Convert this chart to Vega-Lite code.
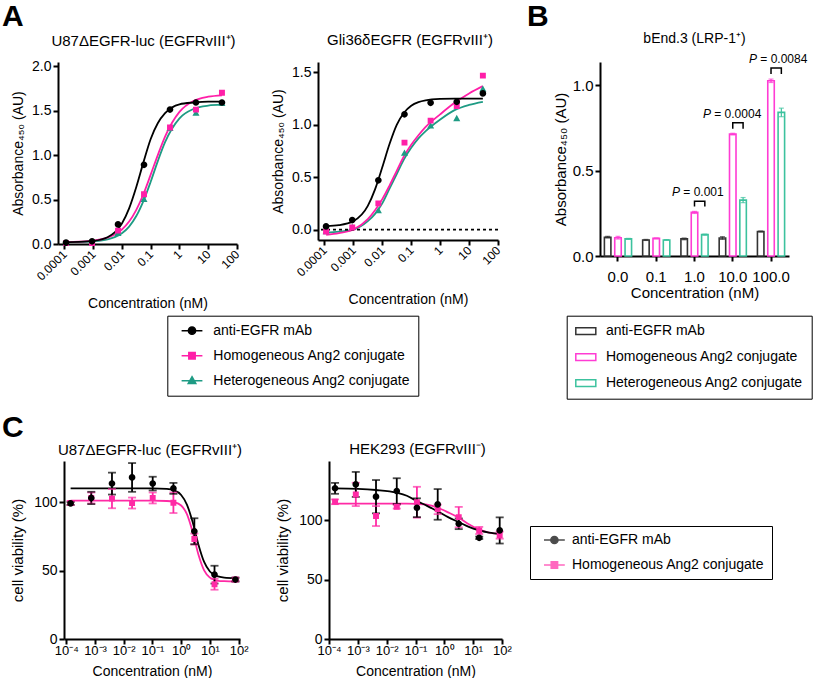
{
  "$schema": "https://vega.github.io/schema/vega-lite/v6.json",
  "padding": {"left": 2, "top": 2, "right": 0, "bottom": 0},
  "autosize": {"type": "pad"},
  "background": "white",
  "config": {
    "font": "Liberation Sans",
    "view": {"stroke": null},
    "axis": {"domainColor": "#000", "domainWidth": 2, "tickColor": "#000", "tickWidth": 2, "tickSize": 5, "labelColor": "#000", "labelFontSize": 14, "labelFont": "Liberation Sans", "titleFont": "Liberation Sans", "titleFontSize": 14, "titleFontWeight": "normal", "titleColor": "#000", "grid": false, "labelPadding": 2, "labelFlush": false, "labelOverlap": false},
    "title": {"font": "Liberation Sans", "fontSize": 15, "fontWeight": "normal", "color": "#000", "baseline": "alphabetic"},
    "text": {"font": "Liberation Sans", "color": "#000"},
    "legend": {"labelFont": "Liberation Sans", "labelFontSize": 14, "labelColor": "#000", "labelLimit": 400, "title": null}
  },
  "datasets": {
    "a_pts": [
      {"panel": "A1", "series": "Hetero", "conc": 0.000114, "value": 0.01},
      {"panel": "A1", "series": "Hetero", "conc": 0.000916, "value": 0.01},
      {"panel": "A1", "series": "Hetero", "conc": 0.00732, "value": 0.12},
      {"panel": "A1", "series": "Hetero", "conc": 0.0586, "value": 0.50},
      {"panel": "A1", "series": "Hetero", "conc": 0.469, "value": 1.30},
      {"panel": "A1", "series": "Hetero", "conc": 3.75, "value": 1.47},
      {"panel": "A1", "series": "Hetero", "conc": 30, "value": 1.58},
      {"panel": "A1", "series": "Homo", "conc": 0.000114, "value": 0.01},
      {"panel": "A1", "series": "Homo", "conc": 0.000916, "value": 0.01},
      {"panel": "A1", "series": "Homo", "conc": 0.00732, "value": 0.15},
      {"panel": "A1", "series": "Homo", "conc": 0.0586, "value": 0.56},
      {"panel": "A1", "series": "Homo", "conc": 0.469, "value": 1.31},
      {"panel": "A1", "series": "Homo", "conc": 3.75, "value": 1.51},
      {"panel": "A1", "series": "Homo", "conc": 30, "value": 1.70},
      {"panel": "A1", "series": "mAb", "conc": 0.000114, "value": 0.015},
      {"panel": "A1", "series": "mAb", "conc": 0.000916, "value": 0.03},
      {"panel": "A1", "series": "mAb", "conc": 0.00732, "value": 0.22},
      {"panel": "A1", "series": "mAb", "conc": 0.0586, "value": 0.89},
      {"panel": "A1", "series": "mAb", "conc": 0.469, "value": 1.51},
      {"panel": "A1", "series": "mAb", "conc": 3.75, "value": 1.59},
      {"panel": "A1", "series": "mAb", "conc": 30, "value": 1.59},
      {"panel": "A2", "series": "Hetero", "conc": 0.000114, "value": -0.02},
      {"panel": "A2", "series": "Hetero", "conc": 0.000916, "value": 0.02},
      {"panel": "A2", "series": "Hetero", "conc": 0.00732, "value": 0.18},
      {"panel": "A2", "series": "Hetero", "conc": 0.0586, "value": 0.73},
      {"panel": "A2", "series": "Hetero", "conc": 0.469, "value": 0.99},
      {"panel": "A2", "series": "Hetero", "conc": 3.75, "value": 1.06},
      {"panel": "A2", "series": "Hetero", "conc": 30, "value": 1.34},
      {"panel": "A2", "series": "Homo", "conc": 0.000114, "value": -0.02},
      {"panel": "A2", "series": "Homo", "conc": 0.000916, "value": 0.02},
      {"panel": "A2", "series": "Homo", "conc": 0.00732, "value": 0.25},
      {"panel": "A2", "series": "Homo", "conc": 0.0586, "value": 0.83},
      {"panel": "A2", "series": "Homo", "conc": 0.469, "value": 1.04},
      {"panel": "A2", "series": "Homo", "conc": 3.75, "value": 1.18},
      {"panel": "A2", "series": "Homo", "conc": 30, "value": 1.47},
      {"panel": "A2", "series": "mAb", "conc": 0.000114, "value": 0.03},
      {"panel": "A2", "series": "mAb", "conc": 0.000916, "value": 0.09},
      {"panel": "A2", "series": "mAb", "conc": 0.00732, "value": 0.47},
      {"panel": "A2", "series": "mAb", "conc": 0.0586, "value": 1.10},
      {"panel": "A2", "series": "mAb", "conc": 0.469, "value": 1.21},
      {"panel": "A2", "series": "mAb", "conc": 3.75, "value": 1.22},
      {"panel": "A2", "series": "mAb", "conc": 30, "value": 1.30}
    ],
    "a_curves": [
      {"panel": "A1", "series": "Hetero", "conc": 0.000115, "value": 0.021},
      {"panel": "A1", "series": "Hetero", "conc": 0.000316, "value": 0.022},
      {"panel": "A1", "series": "Hetero", "conc": 0.001, "value": 0.030},
      {"panel": "A1", "series": "Hetero", "conc": 0.00316, "value": 0.052},
      {"panel": "A1", "series": "Hetero", "conc": 0.00562, "value": 0.077},
      {"panel": "A1", "series": "Hetero", "conc": 0.01, "value": 0.121},
      {"panel": "A1", "series": "Hetero", "conc": 0.0178, "value": 0.196},
      {"panel": "A1", "series": "Hetero", "conc": 0.0316, "value": 0.314},
      {"panel": "A1", "series": "Hetero", "conc": 0.0562, "value": 0.485},
      {"panel": "A1", "series": "Hetero", "conc": 0.1, "value": 0.70},
      {"panel": "A1", "series": "Hetero", "conc": 0.178, "value": 0.934},
      {"panel": "A1", "series": "Hetero", "conc": 0.316, "value": 1.144},
      {"panel": "A1", "series": "Hetero", "conc": 1, "value": 1.412},
      {"panel": "A1", "series": "Hetero", "conc": 3.16, "value": 1.519},
      {"panel": "A1", "series": "Hetero", "conc": 10, "value": 1.555},
      {"panel": "A1", "series": "Hetero", "conc": 30, "value": 1.565},
      {"panel": "A1", "series": "Homo", "conc": 0.000115, "value": 0.022},
      {"panel": "A1", "series": "Homo", "conc": 0.000316, "value": 0.026},
      {"panel": "A1", "series": "Homo", "conc": 0.001, "value": 0.037},
      {"panel": "A1", "series": "Homo", "conc": 0.00316, "value": 0.071},
      {"panel": "A1", "series": "Homo", "conc": 0.00562, "value": 0.106},
      {"panel": "A1", "series": "Homo", "conc": 0.01, "value": 0.163},
      {"panel": "A1", "series": "Homo", "conc": 0.0178, "value": 0.252},
      {"panel": "A1", "series": "Homo", "conc": 0.0316, "value": 0.384},
      {"panel": "A1", "series": "Homo", "conc": 0.0562, "value": 0.562},
      {"panel": "A1", "series": "Homo", "conc": 0.1, "value": 0.779},
      {"panel": "A1", "series": "Homo", "conc": 0.178, "value": 1.002},
      {"panel": "A1", "series": "Homo", "conc": 0.316, "value": 1.207},
      {"panel": "A1", "series": "Homo", "conc": 1, "value": 1.484},
      {"panel": "A1", "series": "Homo", "conc": 3.16, "value": 1.609},
      {"panel": "A1", "series": "Homo", "conc": 10, "value": 1.655},
      {"panel": "A1", "series": "Homo", "conc": 30, "value": 1.671},
      {"panel": "A1", "series": "mAb", "conc": 0.000115, "value": 0.021},
      {"panel": "A1", "series": "mAb", "conc": 0.000316, "value": 0.023},
      {"panel": "A1", "series": "mAb", "conc": 0.001, "value": 0.034},
      {"panel": "A1", "series": "mAb", "conc": 0.00316, "value": 0.076},
      {"panel": "A1", "series": "mAb", "conc": 0.00562, "value": 0.13},
      {"panel": "A1", "series": "mAb", "conc": 0.01, "value": 0.23},
      {"panel": "A1", "series": "mAb", "conc": 0.0178, "value": 0.40},
      {"panel": "A1", "series": "mAb", "conc": 0.0316, "value": 0.64},
      {"panel": "A1", "series": "mAb", "conc": 0.0562, "value": 0.92},
      {"panel": "A1", "series": "mAb", "conc": 0.1, "value": 1.18},
      {"panel": "A1", "series": "mAb", "conc": 0.178, "value": 1.36},
      {"panel": "A1", "series": "mAb", "conc": 0.316, "value": 1.47},
      {"panel": "A1", "series": "mAb", "conc": 1, "value": 1.57},
      {"panel": "A1", "series": "mAb", "conc": 3.16, "value": 1.59},
      {"panel": "A1", "series": "mAb", "conc": 10, "value": 1.60},
      {"panel": "A1", "series": "mAb", "conc": 30, "value": 1.60},
      {"panel": "A2", "series": "Hetero", "conc": 0.000115, "value": -0.03},
      {"panel": "A2", "series": "Hetero", "conc": 0.000316, "value": -0.02},
      {"panel": "A2", "series": "Hetero", "conc": 0.001, "value": 0.0},
      {"panel": "A2", "series": "Hetero", "conc": 0.00316, "value": 0.08},
      {"panel": "A2", "series": "Hetero", "conc": 0.00562, "value": 0.15},
      {"panel": "A2", "series": "Hetero", "conc": 0.01, "value": 0.25},
      {"panel": "A2", "series": "Hetero", "conc": 0.0178, "value": 0.39},
      {"panel": "A2", "series": "Hetero", "conc": 0.0316, "value": 0.53},
      {"panel": "A2", "series": "Hetero", "conc": 0.0562, "value": 0.67},
      {"panel": "A2", "series": "Hetero", "conc": 0.1, "value": 0.78},
      {"panel": "A2", "series": "Hetero", "conc": 0.178, "value": 0.87},
      {"panel": "A2", "series": "Hetero", "conc": 0.316, "value": 0.94},
      {"panel": "A2", "series": "Hetero", "conc": 1, "value": 1.05},
      {"panel": "A2", "series": "Hetero", "conc": 3.16, "value": 1.14},
      {"panel": "A2", "series": "Hetero", "conc": 10, "value": 1.19},
      {"panel": "A2", "series": "Hetero", "conc": 30, "value": 1.22},
      {"panel": "A2", "series": "Homo", "conc": 0.000115, "value": -0.05},
      {"panel": "A2", "series": "Homo", "conc": 0.000316, "value": -0.035},
      {"panel": "A2", "series": "Homo", "conc": 0.001, "value": 0.0},
      {"panel": "A2", "series": "Homo", "conc": 0.00316, "value": 0.10},
      {"panel": "A2", "series": "Homo", "conc": 0.00562, "value": 0.185},
      {"panel": "A2", "series": "Homo", "conc": 0.01, "value": 0.29},
      {"panel": "A2", "series": "Homo", "conc": 0.0178, "value": 0.42},
      {"panel": "A2", "series": "Homo", "conc": 0.0316, "value": 0.56},
      {"panel": "A2", "series": "Homo", "conc": 0.0562, "value": 0.70},
      {"panel": "A2", "series": "Homo", "conc": 0.1, "value": 0.81},
      {"panel": "A2", "series": "Homo", "conc": 0.178, "value": 0.90},
      {"panel": "A2", "series": "Homo", "conc": 0.316, "value": 0.98},
      {"panel": "A2", "series": "Homo", "conc": 1, "value": 1.10},
      {"panel": "A2", "series": "Homo", "conc": 3.16, "value": 1.21},
      {"panel": "A2", "series": "Homo", "conc": 10, "value": 1.30},
      {"panel": "A2", "series": "Homo", "conc": 30, "value": 1.37},
      {"panel": "A2", "series": "mAb", "conc": 0.000115, "value": 0.033},
      {"panel": "A2", "series": "mAb", "conc": 0.000316, "value": 0.042},
      {"panel": "A2", "series": "mAb", "conc": 0.001, "value": 0.08},
      {"panel": "A2", "series": "mAb", "conc": 0.00316, "value": 0.226},
      {"panel": "A2", "series": "mAb", "conc": 0.00562, "value": 0.384},
      {"panel": "A2", "series": "mAb", "conc": 0.01, "value": 0.595},
      {"panel": "A2", "series": "mAb", "conc": 0.0178, "value": 0.817},
      {"panel": "A2", "series": "mAb", "conc": 0.0316, "value": 1.0},
      {"panel": "A2", "series": "mAb", "conc": 0.0562, "value": 1.116},
      {"panel": "A2", "series": "mAb", "conc": 0.1, "value": 1.183},
      {"panel": "A2", "series": "mAb", "conc": 0.178, "value": 1.217},
      {"panel": "A2", "series": "mAb", "conc": 0.316, "value": 1.234},
      {"panel": "A2", "series": "mAb", "conc": 1, "value": 1.247},
      {"panel": "A2", "series": "mAb", "conc": 3.16, "value": 1.25},
      {"panel": "A2", "series": "mAb", "conc": 10, "value": 1.25},
      {"panel": "A2", "series": "mAb", "conc": 30, "value": 1.25}
    ],
    "b_bars": [
      {"group": "0.0", "series": "mAb", "value": 0.110, "lo": 0.105, "hi": 0.115},
      {"group": "0.0", "series": "Homo", "value": 0.107, "lo": 0.099, "hi": 0.115},
      {"group": "0.0", "series": "Hetero", "value": 0.100, "lo": 0.097, "hi": 0.103},
      {"group": "0.1", "series": "mAb", "value": 0.094, "lo": 0.091, "hi": 0.097},
      {"group": "0.1", "series": "Homo", "value": 0.103, "lo": 0.100, "hi": 0.106},
      {"group": "0.1", "series": "Hetero", "value": 0.094, "lo": 0.092, "hi": 0.096},
      {"group": "1.0", "series": "mAb", "value": 0.100, "lo": 0.095, "hi": 0.105},
      {"group": "1.0", "series": "Homo", "value": 0.255, "lo": 0.249, "hi": 0.261},
      {"group": "1.0", "series": "Hetero", "value": 0.125, "lo": 0.122, "hi": 0.128},
      {"group": "10.0", "series": "mAb", "value": 0.105, "lo": 0.097, "hi": 0.113},
      {"group": "10.0", "series": "Homo", "value": 0.713, "lo": 0.708, "hi": 0.718},
      {"group": "10.0", "series": "Hetero", "value": 0.327, "lo": 0.312, "hi": 0.342},
      {"group": "100.0", "series": "mAb", "value": 0.143, "lo": 0.140, "hi": 0.146},
      {"group": "100.0", "series": "Homo", "value": 1.025, "lo": 1.015, "hi": 1.035},
      {"group": "100.0", "series": "Hetero", "value": 0.84, "lo": 0.815, "hi": 0.865}
    ],
    "b_br": [
      {"group": "1.0", "series": "Homo", "y": 0.29, "k": 1},
      {"group": "1.0", "series": "Homo", "y": 0.32, "k": 2},
      {"group": "1.0", "series": "Hetero", "y": 0.32, "k": 3},
      {"group": "1.0", "series": "Hetero", "y": 0.29, "k": 4},
      {"group": "10.0", "series": "Homo", "y": 0.745, "k": 1},
      {"group": "10.0", "series": "Homo", "y": 0.78, "k": 2},
      {"group": "10.0", "series": "Hetero", "y": 0.78, "k": 3},
      {"group": "10.0", "series": "Hetero", "y": 0.745, "k": 4},
      {"group": "100.0", "series": "Homo", "y": 1.065, "k": 1},
      {"group": "100.0", "series": "Homo", "y": 1.10, "k": 2},
      {"group": "100.0", "series": "Hetero", "y": 1.10, "k": 3},
      {"group": "100.0", "series": "Hetero", "y": 1.065, "k": 4}
    ],
    "b_sig": [
      {"group": "1.0", "label": "= 0.001", "top": 0.32},
      {"group": "10.0", "label": "= 0.0004", "top": 0.78},
      {"group": "100.0", "label": "= 0.0084", "top": 1.10}
    ],
    "c_pts": [
      {"panel": "C1", "series": "Homo", "conc": 0.000141, "value": 99.3, "lo": 97.8, "hi": 100.8},
      {"panel": "C1", "series": "Homo", "conc": 0.00074, "value": 103, "lo": 99, "hi": 107},
      {"panel": "C1", "series": "Homo", "conc": 0.00389, "value": 102.5, "lo": 95.5, "hi": 109.5},
      {"panel": "C1", "series": "Homo", "conc": 0.0195, "value": 99.3, "lo": 95.3, "hi": 103.3},
      {"panel": "C1", "series": "Homo", "conc": 0.102, "value": 103, "lo": 99, "hi": 107},
      {"panel": "C1", "series": "Homo", "conc": 0.537, "value": 99.5, "lo": 92, "hi": 107},
      {"panel": "C1", "series": "Homo", "conc": 2.88, "value": 73, "lo": 69, "hi": 77},
      {"panel": "C1", "series": "Homo", "conc": 14.5, "value": 40, "lo": 36, "hi": 44},
      {"panel": "C1", "series": "Homo", "conc": 77.6, "value": 43.4, "lo": 42.4, "hi": 44.4},
      {"panel": "C1", "series": "mAb", "conc": 0.000141, "value": 99, "lo": 98, "hi": 100},
      {"panel": "C1", "series": "mAb", "conc": 0.00074, "value": 103, "lo": 98.5, "hi": 107.5},
      {"panel": "C1", "series": "mAb", "conc": 0.00389, "value": 113.5, "lo": 105.5, "hi": 121.5},
      {"panel": "C1", "series": "mAb", "conc": 0.0195, "value": 118, "lo": 107.5, "hi": 128.5},
      {"panel": "C1", "series": "mAb", "conc": 0.102, "value": 113.5, "lo": 108.5, "hi": 118.5},
      {"panel": "C1", "series": "mAb", "conc": 0.537, "value": 110, "lo": 106, "hi": 114},
      {"panel": "C1", "series": "mAb", "conc": 2.88, "value": 78.7, "lo": 69.2, "hi": 88.2},
      {"panel": "C1", "series": "mAb", "conc": 14.5, "value": 47, "lo": 40.5, "hi": 53.5},
      {"panel": "C1", "series": "mAb", "conc": 77.6, "value": 43.4, "lo": 41.9, "hi": 44.9},
      {"panel": "C2", "series": "Homo", "conc": 0.000162, "value": 115.4, "lo": 113.4, "hi": 117.4},
      {"panel": "C2", "series": "Homo", "conc": 0.00085, "value": 121.6, "lo": 111.8, "hi": 131.4},
      {"panel": "C2", "series": "Homo", "conc": 0.00427, "value": 103.4, "lo": 95, "hi": 111.8},
      {"panel": "C2", "series": "Homo", "conc": 0.0224, "value": 111.2, "lo": 109.7, "hi": 112.7},
      {"panel": "C2", "series": "Homo", "conc": 0.112, "value": 115, "lo": 102, "hi": 128},
      {"panel": "C2", "series": "Homo", "conc": 0.589, "value": 109, "lo": 105, "hi": 113},
      {"panel": "C2", "series": "Homo", "conc": 3.16, "value": 102.5, "lo": 93.9, "hi": 111.1},
      {"panel": "C2", "series": "Homo", "conc": 16.2, "value": 91.3, "lo": 88.3, "hi": 94.3},
      {"panel": "C2", "series": "Homo", "conc": 83.2, "value": 87.4, "lo": 84.4, "hi": 90.4},
      {"panel": "C2", "series": "mAb", "conc": 0.000162, "value": 126.7, "lo": 122.1, "hi": 131.3},
      {"panel": "C2", "series": "mAb", "conc": 0.00085, "value": 130, "lo": 119.5, "hi": 140.5},
      {"panel": "C2", "series": "mAb", "conc": 0.00427, "value": 119.7, "lo": 105.7, "hi": 133.7},
      {"panel": "C2", "series": "mAb", "conc": 0.0224, "value": 124.4, "lo": 113.6, "hi": 135.2},
      {"panel": "C2", "series": "mAb", "conc": 0.112, "value": 110.4, "lo": 102.5, "hi": 118.3},
      {"panel": "C2", "series": "mAb", "conc": 0.589, "value": 113.2, "lo": 100.3, "hi": 126.1},
      {"panel": "C2", "series": "mAb", "conc": 3.16, "value": 96.9, "lo": 92.4, "hi": 101.4},
      {"panel": "C2", "series": "mAb", "conc": 16.2, "value": 85.1, "lo": 84.1, "hi": 86.1},
      {"panel": "C2", "series": "mAb", "conc": 83.2, "value": 91.3, "lo": 80.3, "hi": 102.3}
    ],
    "c_curves": [
      {"panel": "C1", "series": "Homo", "conc": 0.000141, "value": 101},
      {"panel": "C1", "series": "Homo", "conc": 0.001, "value": 101},
      {"panel": "C1", "series": "Homo", "conc": 0.01, "value": 101},
      {"panel": "C1", "series": "Homo", "conc": 0.1, "value": 101},
      {"panel": "C1", "series": "Homo", "conc": 0.316, "value": 100.8},
      {"panel": "C1", "series": "Homo", "conc": 0.562, "value": 100.1},
      {"panel": "C1", "series": "Homo", "conc": 1, "value": 97.5},
      {"panel": "C1", "series": "Homo", "conc": 1.585, "value": 91.2},
      {"panel": "C1", "series": "Homo", "conc": 2.512, "value": 78.2},
      {"panel": "C1", "series": "Homo", "conc": 3.981, "value": 61.7},
      {"panel": "C1", "series": "Homo", "conc": 6.31, "value": 50.1},
      {"panel": "C1", "series": "Homo", "conc": 10, "value": 44.8},
      {"panel": "C1", "series": "Homo", "conc": 17.78, "value": 42.7},
      {"panel": "C1", "series": "Homo", "conc": 31.62, "value": 42.2},
      {"panel": "C1", "series": "Homo", "conc": 79.4, "value": 42.0},
      {"panel": "C1", "series": "mAb", "conc": 0.000141, "value": 110},
      {"panel": "C1", "series": "mAb", "conc": 0.001, "value": 110},
      {"panel": "C1", "series": "mAb", "conc": 0.01, "value": 110},
      {"panel": "C1", "series": "mAb", "conc": 0.1, "value": 110},
      {"panel": "C1", "series": "mAb", "conc": 0.316, "value": 109.6},
      {"panel": "C1", "series": "mAb", "conc": 0.562, "value": 108.6},
      {"panel": "C1", "series": "mAb", "conc": 1, "value": 105.2},
      {"panel": "C1", "series": "mAb", "conc": 1.585, "value": 98.2},
      {"panel": "C1", "series": "mAb", "conc": 2.512, "value": 85.4},
      {"panel": "C1", "series": "mAb", "conc": 3.981, "value": 69.1},
      {"panel": "C1", "series": "mAb", "conc": 6.31, "value": 56.3},
      {"panel": "C1", "series": "mAb", "conc": 10, "value": 49.3},
      {"panel": "C1", "series": "mAb", "conc": 17.78, "value": 45.9},
      {"panel": "C1", "series": "mAb", "conc": 31.62, "value": 44.9},
      {"panel": "C1", "series": "mAb", "conc": 79.4, "value": 44.5},
      {"panel": "C2", "series": "Homo", "conc": 0.000158, "value": 113.8},
      {"panel": "C2", "series": "Homo", "conc": 0.001, "value": 113.8},
      {"panel": "C2", "series": "Homo", "conc": 0.00427, "value": 113.8},
      {"panel": "C2", "series": "Homo", "conc": 0.0224, "value": 113.8},
      {"panel": "C2", "series": "Homo", "conc": 0.0501, "value": 113.8},
      {"panel": "C2", "series": "Homo", "conc": 0.112, "value": 113.6},
      {"panel": "C2", "series": "Homo", "conc": 0.251, "value": 113.0},
      {"panel": "C2", "series": "Homo", "conc": 0.589, "value": 110.4},
      {"panel": "C2", "series": "Homo", "conc": 1.35, "value": 106.5},
      {"panel": "C2", "series": "Homo", "conc": 3.16, "value": 102},
      {"panel": "C2", "series": "Homo", "conc": 7.08, "value": 96.5},
      {"panel": "C2", "series": "Homo", "conc": 16.2, "value": 92},
      {"panel": "C2", "series": "Homo", "conc": 35.5, "value": 89.5},
      {"panel": "C2", "series": "Homo", "conc": 95.5, "value": 88.3},
      {"panel": "C2", "series": "mAb", "conc": 0.000158, "value": 126.7},
      {"panel": "C2", "series": "mAb", "conc": 0.001, "value": 126.3},
      {"panel": "C2", "series": "mAb", "conc": 0.00427, "value": 125.3},
      {"panel": "C2", "series": "mAb", "conc": 0.0224, "value": 123},
      {"panel": "C2", "series": "mAb", "conc": 0.0501, "value": 120.5},
      {"panel": "C2", "series": "mAb", "conc": 0.112, "value": 116},
      {"panel": "C2", "series": "mAb", "conc": 0.251, "value": 112},
      {"panel": "C2", "series": "mAb", "conc": 0.589, "value": 107.3},
      {"panel": "C2", "series": "mAb", "conc": 1.35, "value": 102.5},
      {"panel": "C2", "series": "mAb", "conc": 3.16, "value": 98.3},
      {"panel": "C2", "series": "mAb", "conc": 7.08, "value": 94.3},
      {"panel": "C2", "series": "mAb", "conc": 16.2, "value": 91.3},
      {"panel": "C2", "series": "mAb", "conc": 35.5, "value": 89.5},
      {"panel": "C2", "series": "mAb", "conc": 95.5, "value": 88.3}
    ]
  },
  "spacing": 13,
  "resolve": {"scale": {"color": "independent", "shape": "independent", "stroke": "independent", "fill": "independent"}},
  "vconcat": [
    {
      "bounds": "flush",
      "spacing": 0,
      "resolve": {"scale": {"color": "independent", "shape": "independent", "stroke": "independent", "fill": "independent"}},
      "hconcat": [
        {"width": 56, "height": 1, "data": {"values": []}, "mark": "point", "encoding": {},
          "title": {"text": "A", "fontSize": 30, "fontWeight": "bold", "anchor": "start", "frame": "group", "offset": 30, "dx": 0}},
        {
          "width": 179, "height": 182,
          "title": {"text": "U87ΔEGFR-luc (EGFRvIII⁺)", "dx": -4, "offset": 10},
          "layer": [
            {
              "data": {"name": "a_curves"},
              "transform": [{"filter": "datum.panel === 'A1'"}],
              "mark": {"type": "line", "strokeWidth": 1.8, "interpolate": "monotone"},
              "encoding": {
                "x": {"field": "conc", "type": "quantitative", "scale": {"type": "log", "domain": [0.00006, 100], "nice": false},
                  "axis": {"title": "Concentration (nM)", "values": [0.0001, 0.001, 0.01, 0.1, 1, 10, 100], "format": "~g", "labelAngle": -45, "labelAlign": "right", "labelBaseline": "middle", "labelFontSize": 12, "labelPadding": 3, "titlePadding": 14}},
                "y": {"field": "value", "type": "quantitative", "scale": {"domain": [0, 2.045], "nice": false},
                  "axis": {"title": "Absorbance₄₅₀ (AU)", "values": [0, 0.5, 1, 1.5, 2], "format": ".1f", "titlePadding": 6}},
                "color": {"field": "series", "type": "nominal", "scale": {"domain": ["mAb", "Homo", "Hetero"], "range": ["#000000", "#ff1fa8", "#1e9b84"]}}
              }
            },
            {
              "data": {"name": "a_pts"},
              "transform": [{"filter": "datum.panel === 'A1'"}],
              "mark": {"type": "point", "filled": true, "size": 55, "opacity": 1},
              "encoding": {
                "x": {"field": "conc", "type": "quantitative"},
                "y": {"field": "value", "type": "quantitative"},
                "color": {"field": "series", "type": "nominal",
                  "legend": {"orient": "none", "legendX": 109.3, "legendY": 253.7, "direction": "vertical", "padding": 8, "strokeColor": "#000", "symbolOffset": 9.7, "labelOffset": 14.3, "rowPadding": 11, "symbolSize": 64,
                    "labelExpr": "datum.value === 'mAb' ? 'anti-EGFR mAb' : datum.value === 'Homo' ? 'Homogeneous Ang2 conjugate' : 'Heterogeneous Ang2 conjugate'",
                    "encode": {"symbols": {"update": {"fill": {"signal": "datum.value === 'mAb' ? '#000000' : datum.value === 'Homo' ? '#ff1fa8' : '#1e9b84'"}, "stroke": {"signal": "datum.value === 'mAb' ? '#000000' : datum.value === 'Homo' ? '#ff1fa8' : '#1e9b84'"}, "strokeWidth": {"value": 1.8}, "size": {"value": 64}, "opacity": {"value": 1}}}}}},
                "shape": {"field": "series", "type": "nominal",
                  "scale": {"domain": ["mAb", "Homo", "Hetero"], "range": ["M-2.6,0H2.6M0.9,0A0.9,0.9,0,1,1,-0.9,0A0.9,0.9,0,1,1,0.9,0Z", "M-2.6,0H2.6M-0.8,-0.8H0.8V0.8H-0.8Z", "M-2.6,0H2.6M0,-1L0.95,0.7H-0.95Z"]},
                  "legend": {"orient": "none", "legendX": 109.3, "legendY": 253.7, "direction": "vertical", "padding": 8, "strokeColor": "#000", "symbolOffset": 9.7, "labelOffset": 14.3, "rowPadding": 11, "symbolSize": 64,
                    "labelExpr": "datum.value === 'mAb' ? 'anti-EGFR mAb' : datum.value === 'Homo' ? 'Homogeneous Ang2 conjugate' : 'Heterogeneous Ang2 conjugate'",
                    "encode": {"symbols": {"update": {"fill": {"signal": "datum.value === 'mAb' ? '#000000' : datum.value === 'Homo' ? '#ff1fa8' : '#1e9b84'"}, "stroke": {"signal": "datum.value === 'mAb' ? '#000000' : datum.value === 'Homo' ? '#ff1fa8' : '#1e9b84'"}, "strokeWidth": {"value": 1.8}, "size": {"value": 64}, "opacity": {"value": 1}}}}}}
              }
            }
          ]
        },
        {"width": 81, "height": 1, "data": {"values": []}, "mark": "point", "encoding": {}},
        {
          "width": 180, "height": 178,
          "title": {"text": "Gli36δEGFR (EGFRvIII⁺)", "dx": 2, "offset": 14},
          "layer": [
            {
              "data": {"name": "a_curves"},
              "transform": [{"filter": "datum.panel === 'A2'"}],
              "mark": {"type": "line", "strokeWidth": 1.8, "interpolate": "monotone"},
              "encoding": {
                "x": {"field": "conc", "type": "quantitative", "scale": {"type": "log", "domain": [0.00006, 100], "nice": false},
                  "axis": {"title": "Concentration (nM)", "values": [0.0001, 0.001, 0.01, 0.1, 1, 10, 100], "format": "~g", "labelAngle": -45, "labelAlign": "right", "labelBaseline": "middle", "labelFontSize": 12, "labelPadding": 3, "titlePadding": 14}},
                "y": {"field": "value", "type": "quantitative", "scale": {"domain": [-0.1, 1.6], "nice": false, "zero": false},
                  "axis": {"title": "Absorbance₄₅₀ (AU)", "values": [0, 0.5, 1, 1.5], "format": ".1f", "titlePadding": 6}},
                "color": {"field": "series", "type": "nominal", "scale": {"domain": ["mAb", "Homo", "Hetero"], "range": ["#000000", "#ff1fa8", "#1e9b84"]}, "legend": null}
              }
            },
            {
              "data": {"values": [{}]},
              "mark": {"type": "rule", "strokeDash": [3, 3], "strokeWidth": 1.8, "color": "#000"},
              "encoding": {"y": {"datum": 0}}
            },
            {
              "data": {"name": "a_pts"},
              "transform": [{"filter": "datum.panel === 'A2'"}],
              "mark": {"type": "point", "filled": true, "size": 55, "opacity": 1},
              "encoding": {
                "x": {"field": "conc", "type": "quantitative"},
                "y": {"field": "value", "type": "quantitative"},
                "color": {"field": "series", "type": "nominal", "legend": null},
                "shape": {"field": "series", "type": "nominal", "scale": {"domain": ["mAb", "Homo", "Hetero"], "range": ["M-2.6,0H2.6M0.9,0A0.9,0.9,0,1,1,-0.9,0A0.9,0.9,0,1,1,0.9,0Z", "M-2.6,0H2.6M-0.8,-0.8H0.8V0.8H-0.8Z", "M-2.6,0H2.6M0,-1L0.95,0.7H-0.95Z"]}, "legend": null}
              }
            }
          ]
        },
        {"width": 102, "height": 1, "data": {"values": []}, "mark": "point", "encoding": {},
          "title": {"text": "B", "fontSize": 30, "fontWeight": "bold", "anchor": "start", "frame": "group", "offset": 30, "dx": 29}},
        {
          "width": 189, "height": 194,
          "title": {"text": "bEnd.3 (LRP-1⁺)", "fontSize": 14, "offset": 7},
          "data": {"name": "b_bars"},
          "encoding": {
            "x": {"field": "group", "type": "ordinal", "sort": null, "scale": {"paddingInner": 0.29, "paddingOuter": 0.115},
              "axis": {"title": "Concentration (nM)", "labelAngle": 0, "labelFontSize": 15, "titleFontSize": 15, "labelPadding": 8, "titlePadding": 1}},
            "xOffset": {"field": "series", "type": "nominal", "scale": {"domain": ["mAb", "Homo", "Hetero"], "paddingInner": 0.37, "paddingOuter": 0}}
          },
          "layer": [
            {
              "mark": {"type": "bar", "strokeWidth": 1.6},
              "encoding": {
                "y": {"field": "value", "type": "quantitative", "scale": {"domain": [0, 1.135], "nice": false},
                  "axis": {"title": "Absorbance₄₅₀ (AU)", "values": [0, 0.5, 1], "format": ".1f", "labelFontSize": 15, "titleFontSize": 15, "titlePadding": 4}},
                "fill": {"field": "series", "type": "nominal", "scale": {"domain": ["mAb", "Homo", "Hetero"], "range": ["#ffffff", "#ffffff", "#ffffff"]},
                  "legend": {"orient": "none", "legendX": -33.3, "legendY": 253.7, "direction": "vertical", "padding": 8, "strokeColor": "#000", "symbolOffset": 3.6, "labelOffset": 12.6, "rowPadding": 11, "symbolSize": 178, "symbolType": "M-1.5,-0.5H1.5V0.5H-1.5Z", "symbolStrokeWidth": 1.5,
                    "labelExpr": "datum.value === 'mAb' ? 'anti-EGFR mAb' : datum.value === 'Homo' ? 'Homogeneous Ang2 conjugate' : 'Heterogeneous Ang2 conjugate'"}},
                "stroke": {"field": "series", "type": "nominal", "scale": {"domain": ["mAb", "Homo", "Hetero"], "range": ["#333333", "#ff3cd4", "#3cc29e"]},
                  "legend": {"orient": "none", "legendX": -33.3, "legendY": 253.7, "direction": "vertical", "padding": 8, "strokeColor": "#000", "symbolOffset": 3.6, "labelOffset": 12.6, "rowPadding": 11, "symbolSize": 178, "symbolType": "M-1.5,-0.5H1.5V0.5H-1.5Z", "symbolStrokeWidth": 1.5,
                    "labelExpr": "datum.value === 'mAb' ? 'anti-EGFR mAb' : datum.value === 'Homo' ? 'Homogeneous Ang2 conjugate' : 'Heterogeneous Ang2 conjugate'"}}
              }
            },
            {
              "mark": {"type": "rule", "strokeWidth": 1.2},
              "encoding": {
                "y": {"field": "lo", "type": "quantitative"},
                "y2": {"field": "hi"},
                "color": {"field": "series", "type": "nominal", "scale": {"domain": ["mAb", "Homo", "Hetero"], "range": ["#333333", "#ff3cd4", "#3cc29e"]}, "legend": null}
              }
            },
            {
              "mark": {"type": "tick", "size": 5, "thickness": 1.2},
              "encoding": {
                "y": {"field": "hi", "type": "quantitative"},
                "color": {"field": "series", "type": "nominal", "legend": null}
              }
            },
            {
              "mark": {"type": "tick", "size": 5, "thickness": 1.2},
              "encoding": {
                "y": {"field": "lo", "type": "quantitative"},
                "color": {"field": "series", "type": "nominal", "legend": null}
              }
            },
            {
              "data": {"name": "b_br"},
              "mark": {"type": "line", "color": "#000", "strokeWidth": 1.5},
              "encoding": {
                "xOffset": {"field": "series", "type": "nominal"},
                "y": {"field": "y", "type": "quantitative"},
                "detail": {"field": "group"},
                "order": {"field": "k", "type": "quantitative"}
              }
            },
            {
              "data": {"name": "b_sig"},
              "transform": [{"filter": "datum.group === '1.0'"}],
              "mark": {"type": "text", "text": "P", "fontStyle": "italic", "fontSize": 12, "align": "left", "baseline": "alphabetic", "dx": -22.5, "dy": -5},
              "encoding": {"xOffset": {"datum": "Homo"}, "y": {"field": "top", "type": "quantitative"}}
            },
            {
              "data": {"name": "b_sig"},
              "transform": [{"filter": "datum.group === '1.0'"}],
              "mark": {"type": "text", "fontSize": 12, "align": "left", "baseline": "alphabetic", "dx": -11.2, "dy": -5},
              "encoding": {"xOffset": {"datum": "Homo"}, "y": {"field": "top", "type": "quantitative"}, "text": {"field": "label"}}
            },
            {
              "data": {"name": "b_sig"},
              "transform": [{"filter": "datum.group === '10.0'"}],
              "mark": {"type": "text", "text": "P", "fontStyle": "italic", "fontSize": 12, "align": "left", "baseline": "alphabetic", "dx": -29.8, "dy": -5},
              "encoding": {"xOffset": {"datum": "Homo"}, "y": {"field": "top", "type": "quantitative"}}
            },
            {
              "data": {"name": "b_sig"},
              "transform": [{"filter": "datum.group === '10.0'"}],
              "mark": {"type": "text", "fontSize": 12, "align": "left", "baseline": "alphabetic", "dx": -18.5, "dy": -5},
              "encoding": {"xOffset": {"datum": "Homo"}, "y": {"field": "top", "type": "quantitative"}, "text": {"field": "label"}}
            },
            {
              "data": {"name": "b_sig"},
              "transform": [{"filter": "datum.group === '100.0'"}],
              "mark": {"type": "text", "text": "P", "fontStyle": "italic", "fontSize": 12, "align": "left", "baseline": "alphabetic", "dx": -22, "dy": -5},
              "encoding": {"xOffset": {"datum": "Homo"}, "y": {"field": "top", "type": "quantitative"}}
            },
            {
              "data": {"name": "b_sig"},
              "transform": [{"filter": "datum.group === '100.0'"}],
              "mark": {"type": "text", "fontSize": 12, "align": "left", "baseline": "alphabetic", "dx": -10.7, "dy": -5},
              "encoding": {"xOffset": {"datum": "Homo"}, "y": {"field": "top", "type": "quantitative"}, "text": {"field": "label"}}
            }
          ]
        }
      ]
    },
    {
      "bounds": "flush",
      "spacing": 0,
      "resolve": {"scale": {"color": "independent", "shape": "independent", "stroke": "independent", "fill": "independent"}},
      "hconcat": [
        {"width": 62, "height": 1, "data": {"values": []}, "mark": "point", "encoding": {},
          "title": {"text": "C", "fontSize": 30, "fontWeight": "bold", "anchor": "start", "frame": "group", "offset": 18, "dx": 0}},
        {
          "width": 176, "height": 178,
          "title": {"text": "U87ΔEGFR-luc (EGFRvIII⁺)", "dx": -2, "offset": 3},
          "layer": [
            {
              "data": {"name": "c_curves"},
              "transform": [{"filter": "datum.panel === 'C1'"}],
              "mark": {"type": "line", "strokeWidth": 1.8, "interpolate": "monotone"},
              "encoding": {
                "x": {"field": "conc", "type": "quantitative", "scale": {"type": "log", "domain": [0.000083, 112], "nice": false},
                  "axis": {"title": "Concentration (nM)", "values": [0.0001, 0.001, 0.01, 0.1, 1, 10, 100], "labelExpr": "datum.value < 0.0005 ? '10⁻⁴' : datum.value < 0.005 ? '10⁻³' : datum.value < 0.05 ? '10⁻²' : datum.value < 0.5 ? '10⁻¹' : datum.value < 5 ? '10⁰' : datum.value < 50 ? '10¹' : '10²'", "labelFontSize": 13, "labelPadding": 0, "titlePadding": 7}},
                "y": {"field": "value", "type": "quantitative", "scale": {"domain": [0, 130], "nice": false},
                  "axis": {"title": "cell viability (%)", "values": [0, 50, 100], "titleFontSize": 15, "titlePadding": 8}},
                "color": {"field": "series", "type": "nominal", "scale": {"domain": ["mAb", "Homo"], "range": ["#000000", "#ff2aa5"]}, "legend": null}
              }
            },
            {
              "data": {"name": "c_pts"},
              "transform": [{"filter": "datum.panel === 'C1'"}],
              "mark": {"type": "rule", "strokeWidth": 1.8},
              "encoding": {
                "x": {"field": "conc", "type": "quantitative"},
                "y": {"field": "lo", "type": "quantitative"},
                "y2": {"field": "hi"},
                "color": {"field": "series", "type": "nominal", "legend": null}
              }
            },
            {
              "data": {"name": "c_pts"},
              "transform": [{"filter": "datum.panel === 'C1'"}],
              "mark": {"type": "tick", "orient": "horizontal", "size": 8, "thickness": 1.8},
              "encoding": {
                "x": {"field": "conc", "type": "quantitative"},
                "y": {"field": "hi", "type": "quantitative"},
                "color": {"field": "series", "type": "nominal", "legend": null}
              }
            },
            {
              "data": {"name": "c_pts"},
              "transform": [{"filter": "datum.panel === 'C1'"}],
              "mark": {"type": "tick", "orient": "horizontal", "size": 8, "thickness": 1.8},
              "encoding": {
                "x": {"field": "conc", "type": "quantitative"},
                "y": {"field": "lo", "type": "quantitative"},
                "color": {"field": "series", "type": "nominal", "legend": null}
              }
            },
            {
              "data": {"name": "c_pts"},
              "transform": [{"filter": "datum.panel === 'C1'"}],
              "mark": {"type": "point", "filled": true, "size": 55, "opacity": 1},
              "encoding": {
                "x": {"field": "conc", "type": "quantitative"},
                "y": {"field": "value", "type": "quantitative"},
                "color": {"field": "series", "type": "nominal", "legend": null},
                "shape": {"field": "series", "type": "nominal", "scale": {"domain": ["mAb", "Homo"], "range": ["M-2.6,0H2.6M0.9,0A0.9,0.9,0,1,1,-0.9,0A0.9,0.9,0,1,1,0.9,0Z", "M-2.6,0H2.6M-0.8,-0.8H0.8V0.8H-0.8Z"]}, "legend": null}
              }
            }
          ]
        },
        {"width": 89, "height": 1, "data": {"values": []}, "mark": "point", "encoding": {}},
        {
          "width": 173, "height": 178,
          "title": {"text": "HEK293 (EGFRvIII⁻)", "dx": 2, "offset": 4.5},
          "layer": [
            {
              "data": {"name": "c_curves"},
              "transform": [{"filter": "datum.panel === 'C2'"}],
              "mark": {"type": "line", "strokeWidth": 1.8, "interpolate": "monotone"},
              "encoding": {
                "x": {"field": "conc", "type": "quantitative", "scale": {"type": "log", "domain": [0.0001, 100], "nice": false},
                  "axis": {"title": "Concentration (nM)", "values": [0.0001, 0.001, 0.01, 0.1, 1, 10, 100], "labelExpr": "datum.value < 0.0005 ? '10⁻⁴' : datum.value < 0.005 ? '10⁻³' : datum.value < 0.05 ? '10⁻²' : datum.value < 0.5 ? '10⁻¹' : datum.value < 5 ? '10⁰' : datum.value < 50 ? '10¹' : '10²'", "labelFontSize": 13, "labelPadding": 0, "titlePadding": 7}},
                "y": {"field": "value", "type": "quantitative", "scale": {"domain": [0, 149.7], "nice": false},
                  "axis": {"title": "cell viability (%)", "values": [0, 50, 100], "titleFontSize": 15, "titlePadding": 8}},
                "color": {"field": "series", "type": "nominal", "scale": {"domain": ["mAb", "Homo"], "range": ["#000000", "#ff2aa5"]}}
              }
            },
            {
              "data": {"name": "c_pts"},
              "transform": [{"filter": "datum.panel === 'C2'"}],
              "mark": {"type": "rule", "strokeWidth": 1.8},
              "encoding": {
                "x": {"field": "conc", "type": "quantitative"},
                "y": {"field": "lo", "type": "quantitative"},
                "y2": {"field": "hi"},
                "color": {"field": "series", "type": "nominal"}
              }
            },
            {
              "data": {"name": "c_pts"},
              "transform": [{"filter": "datum.panel === 'C2'"}],
              "mark": {"type": "tick", "orient": "horizontal", "size": 8, "thickness": 1.8},
              "encoding": {
                "x": {"field": "conc", "type": "quantitative"},
                "y": {"field": "hi", "type": "quantitative"},
                "color": {"field": "series", "type": "nominal"}
              }
            },
            {
              "data": {"name": "c_pts"},
              "transform": [{"filter": "datum.panel === 'C2'"}],
              "mark": {"type": "tick", "orient": "horizontal", "size": 8, "thickness": 1.8},
              "encoding": {
                "x": {"field": "conc", "type": "quantitative"},
                "y": {"field": "lo", "type": "quantitative"},
                "color": {"field": "series", "type": "nominal"}
              }
            },
            {
              "data": {"name": "c_pts"},
              "transform": [{"filter": "datum.panel === 'C2'"}],
              "mark": {"type": "point", "filled": true, "size": 55, "opacity": 1},
              "encoding": {
                "x": {"field": "conc", "type": "quantitative"},
                "y": {"field": "value", "type": "quantitative"},
                "color": {"field": "series", "type": "nominal",
                  "legend": {"orient": "none", "legendX": 201, "legendY": 65, "direction": "vertical", "padding": 7, "strokeColor": "#000", "symbolOffset": 10.4, "labelOffset": 10.6, "rowPadding": 11, "symbolSize": 64,
                    "labelExpr": "datum.value === 'mAb' ? 'anti-EGFR mAb' : 'Homogeneous Ang2 conjugate'",
                    "encode": {"symbols": {"update": {"fill": {"signal": "datum.value === 'mAb' ? '#000000' : '#ff2aa5'"}, "stroke": {"signal": "datum.value === 'mAb' ? '#000000' : '#ff2aa5'"}, "strokeWidth": {"value": 1.8}, "size": {"value": 64}, "opacity": {"value": 1}}}}}},
                "shape": {"field": "series", "type": "nominal", "scale": {"domain": ["mAb", "Homo"], "range": ["M-2.6,0H2.6M0.9,0A0.9,0.9,0,1,1,-0.9,0A0.9,0.9,0,1,1,0.9,0Z", "M-2.6,0H2.6M-0.8,-0.8H0.8V0.8H-0.8Z"]},
                  "legend": {"orient": "none", "legendX": 201, "legendY": 65, "direction": "vertical", "padding": 7, "strokeColor": "#000", "symbolOffset": 10.4, "labelOffset": 10.6, "rowPadding": 11, "symbolSize": 64,
                    "labelExpr": "datum.value === 'mAb' ? 'anti-EGFR mAb' : 'Homogeneous Ang2 conjugate'",
                    "encode": {"symbols": {"update": {"fill": {"signal": "datum.value === 'mAb' ? '#000000' : '#ff2aa5'"}, "stroke": {"signal": "datum.value === 'mAb' ? '#000000' : '#ff2aa5'"}, "strokeWidth": {"value": 1.8}, "size": {"value": 64}, "opacity": {"value": 1}}}}}}
              }
            }
          ]
        }
      ]
    }
  ]
}
